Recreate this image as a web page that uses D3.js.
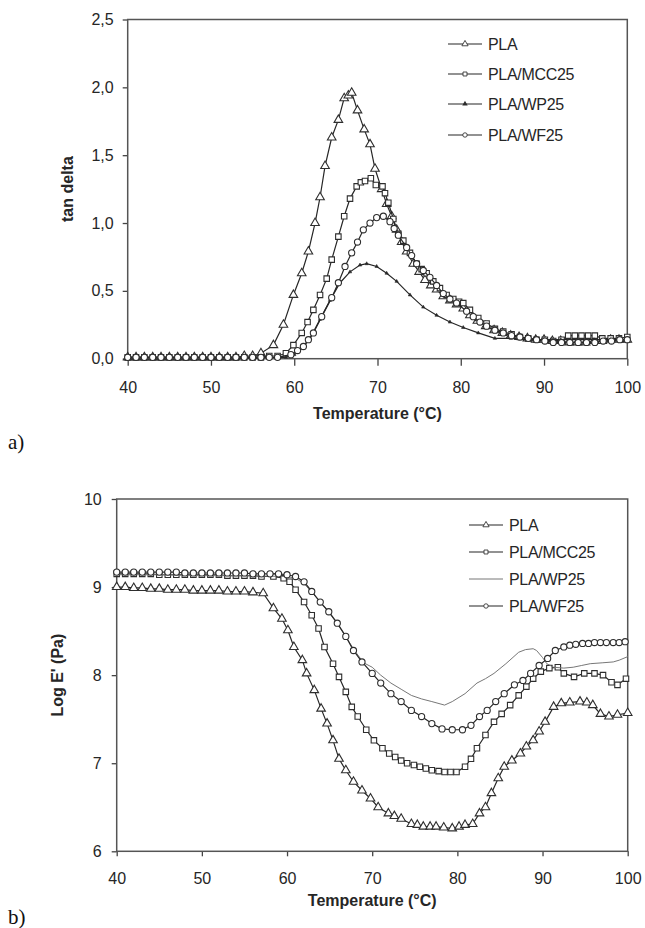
<!DOCTYPE html>
<html>
<head>
<meta charset="utf-8">
<script src="https://cdn.jsdelivr.net/npm/d3@7"></script>
<style>
  body { margin: 0; background: #fff; }
  svg { display: block; }
</style>
</head>
<body>
<div id="chart"></div>
<script>
// ---- data ----
const tempTicks = [40, 50, 60, 70, 80, 90, 100]
const tanTicks = [0, 0.5, 1, 1.5, 2, 2.5]
const logTicks = [6, 7, 8, 9, 10]
const seriesNames = ['PLA', 'PLA/MCC25', 'PLA/WP25', 'PLA/WF25']

// a) tan delta vs temperature
const tanPLA = [[40,0.01],[41,0.01],[42,0.01],[43,0.01],[44,0.01],[45,0.01],[46,0.01],[47,0.01],[48,0.01],[49,0.01],[50,0.01],[51,0.01],[52,0.01],[53,0.01],[54,0.02],[55,0.02],[56,0.04],
  [57.5,0.10],[58.7,0.25],[59.9,0.47],[60.9,0.63],[61.7,0.79],[62.5,1.0],[63.1,1.19],[63.7,1.42],[64.5,1.63],[65.3,1.76],[66.0,1.92],[66.5,1.94],[66.9,1.96],[67.6,1.83],[68.4,1.69],[69.1,1.58],[69.7,1.40],[70.5,1.25],[71.1,1.14],[71.7,1.05],[72.3,0.95],[72.9,0.86],[73.5,0.79],[74.3,0.70],[75.0,0.64],[75.7,0.58],[76.4,0.54],[77.1,0.51],[77.9,0.46],[78.7,0.43],[79.5,0.40],[80.3,0.37],[81.1,0.32],[82.0,0.28],[83.0,0.24],[84.0,0.21],[85.0,0.19],[86.0,0.17],[87.0,0.16],[88.0,0.15],[89.0,0.14],[90.0,0.14],[91,0.13],[92,0.13],[93,0.12],[94,0.12],[95,0.12],[96,0.13],[97,0.13],[98,0.14],[99,0.14],[100,0.14]]
const tanMCC = [[40,0.01],[41,0.01],[42,0.01],[43,0.01],[44,0.01],[45,0.01],[46,0.01],[47,0.01],[48,0.01],[49,0.01],[50,0.01],[51,0.01],[52,0.01],[53,0.01],[54,0.01],[55,0.01],[56,0.01],[57,0.02],[58,0.02],[59,0.04],
  [59.9,0.10],[60.9,0.19],[61.6,0.27],[62.3,0.36],[63.1,0.47],[63.9,0.59],[64.5,0.73],[65.3,0.90],[66.0,1.05],[66.7,1.18],[67.5,1.27],[68.0,1.30],[68.5,1.31],[69.2,1.33],[69.8,1.28],[70.6,1.27],[70.9,1.22],[71.3,1.15],[71.9,1.03],[72.5,0.92],[73.1,0.87],[73.9,0.78],[74.7,0.70],[75.3,0.66],[75.9,0.63],[76.7,0.57],[77.5,0.52],[78.3,0.47],[79.1,0.44],[79.8,0.42],[80.3,0.41],[81.1,0.36],[82.1,0.30],[83.1,0.26],[84.1,0.22],[85.1,0.20],[86.1,0.18],[87.1,0.16],[88.1,0.15],[89.1,0.14],[90.1,0.14],[91.1,0.13],[92.1,0.14],[92.9,0.17],[93.7,0.17],[94.5,0.17],[95.3,0.17],[96.1,0.17],[97,0.15],[98,0.15],[99,0.15],[100,0.16]]
const tanWP = [[40,0.01],[42,0.01],[44,0.01],[46,0.01],[48,0.01],[50,0.01],[52,0.01],[54,0.01],[56,0.01],[58,0.01],[59,0.01],[60,0.03],[61,0.08],[61.9,0.15],[63.1,0.29],[64.3,0.43],[65.5,0.56],[66.7,0.64],[67.9,0.69],[68.7,0.70],[69.9,0.68],[71.1,0.63],[72.3,0.57],[73.9,0.47],[75.5,0.38],[77.1,0.32],[78.7,0.27],[80.3,0.23],[82.1,0.19],[84.1,0.15],[86,0.15],[88,0.14],[90,0.14],[92,0.14],[94,0.14],[96,0.14],[98,0.14],[100,0.14]]
const tanWF = [[40,0.01],[41,0.01],[42,0.01],[43,0.01],[44,0.01],[45,0.01],[46,0.01],[47,0.01],[48,0.01],[49,0.01],[50,0.01],[51,0.01],[52,0.01],[53,0.01],[54,0.01],[55,0.01],[56,0.01],[57,0.01],[58,0.01],
  [59.6,0.03],[60.4,0.06],[61.1,0.09],[61.7,0.14],[62.3,0.19],[63.3,0.31],[64.5,0.45],[65.3,0.56],[66.1,0.68],[66.9,0.78],[67.6,0.86],[68.3,0.95],[69.1,1.00],[69.9,1.04],[70.7,1.05],[71.5,1.01],[72.0,0.96],[72.5,0.91],[73.5,0.82],[74.1,0.76],[74.7,0.70],[75.5,0.65],[76.3,0.60],[77.1,0.54],[77.9,0.48],[78.7,0.44],[79.5,0.41],[80.7,0.35],[81.5,0.31],[82.3,0.27],[83.1,0.24],[84.1,0.21],[85.1,0.19],[86.1,0.17],[87.1,0.16],[88.1,0.15],[89.1,0.14],[90.1,0.13],[91.1,0.12],[92.1,0.12],[93.1,0.12],[94.1,0.12],[95.1,0.12],[96.1,0.12],[97.1,0.13],[98.1,0.13],[99.1,0.14],[100,0.14]]

// b) log E' vs temperature
const logPLA = [[40,9.00],[41,9.00],[42,8.99],[43,8.99],[44,8.98],[45,8.98],[46,8.97],[47,8.97],[48,8.97],[49,8.96],[50,8.96],[51,8.96],[52,8.96],[53,8.95],[54,8.95],[55,8.95],[56,8.94],
  [57.2,8.93],[58.4,8.76],[59.4,8.64],[60.1,8.51],[60.8,8.32],[61.8,8.17],[62.3,8.02],[63.2,7.83],[64.0,7.62],[64.7,7.45],[65.4,7.26],[66.1,7.05],[66.9,6.92],[67.8,6.79],[68.8,6.69],[69.8,6.60],[70.7,6.50],[71.9,6.43],[72.6,6.40],[73.4,6.37],[74.6,6.31],[75.3,6.30],[76.0,6.28],[76.8,6.28],[77.5,6.28],[78.4,6.27],[79.4,6.26],[80.2,6.28],[80.9,6.30],[81.8,6.31],[82.6,6.43],[83.3,6.50],[84.0,6.66],[84.8,6.83],[85.5,6.96],[86.4,7.03],[87.4,7.11],[88.1,7.19],[88.9,7.26],[89.6,7.36],[90.3,7.47],[91.3,7.64],[92.2,7.68],[93.2,7.69],[94.4,7.70],[95.2,7.69],[95.9,7.66],[96.8,7.56],[97.8,7.53],[98.8,7.55],[100,7.57]]
const logMCC = [[40,9.15],[41,9.15],[42,9.15],[43,9.15],[44,9.15],[45,9.14],[46,9.14],[47,9.14],[48,9.14],[49,9.14],[50,9.14],[51,9.14],[52,9.14],[53,9.13],[54,9.13],[55,9.13],[56,9.13],[57,9.12],
  [58.4,9.12],[59.6,9.10],[60.3,9.06],[61.0,8.97],[62.0,8.83],[62.9,8.68],[63.7,8.53],[64.4,8.32],[65.4,8.13],[66.1,7.98],[66.9,7.81],[67.6,7.64],[68.3,7.53],[69.3,7.38],[70.2,7.26],[71.2,7.17],[72.0,7.11],[72.7,7.07],[73.4,7.03],[74.1,7.00],[74.9,6.98],[75.6,6.96],[76.3,6.94],[77.0,6.92],[77.8,6.91],[78.5,6.90],[79.2,6.90],[79.9,6.90],[80.9,6.96],[81.6,7.05],[82.3,7.17],[83.3,7.32],[84.3,7.47],[85.2,7.56],[86.2,7.66],[87.2,7.77],[88.1,7.87],[88.9,7.96],[89.8,8.04],[90.8,8.08],[91.8,8.09],[92.5,8.02],[93.7,7.98],[94.9,8.02],[96.1,8.02],[97.1,8.00],[98.1,7.92],[98.8,7.89],[99.8,7.96]]
const logWP = [[40,9.14],[45,9.14],[50,9.13],[55,9.13],[60,9.12],[61,9.10],[62,9.04],[63,8.93],[64,8.82],[65,8.70],[66,8.57],[67,8.42],[68,8.27],[69,8.14],[70,8.09],[71,8.00],[72.2,7.91],[73.4,7.84],[74.6,7.77],[75.8,7.73],[77.0,7.70],[78.5,7.66],[79.4,7.70],[80.9,7.79],[82.3,7.91],[83.3,7.96],[84.3,8.02],[85.7,8.13],[87.2,8.26],[88.0,8.29],[88.9,8.30],[89.3,8.28],[90.0,8.20],[90.5,8.13],[91.3,8.09],[92.5,8.08],[93.6,8.09],[94.6,8.11],[95.6,8.13],[97,8.14],[98.3,8.15],[99,8.17],[100,8.21]]
const logWF = [[40,9.17],[41,9.17],[42,9.17],[43,9.17],[44,9.17],[45,9.17],[46,9.17],[47,9.17],[48,9.16],[49,9.16],[50,9.16],[51,9.16],[52,9.16],[53,9.16],[54,9.16],[55,9.16],[56,9.15],[57,9.15],[58,9.15],[59,9.15],
  [60,9.14],[61.0,9.12],[62.0,9.06],[62.9,8.95],[63.9,8.83],[64.9,8.72],[65.9,8.59],[66.9,8.44],[67.8,8.28],[68.8,8.15],[70.0,8.02],[71.0,7.91],[72.2,7.79],[73.4,7.70],[74.6,7.60],[75.8,7.53],[77.0,7.45],[78.2,7.39],[79.4,7.38],[80.6,7.38],[81.6,7.43],[82.6,7.53],[83.5,7.60],[84.5,7.70],[85.5,7.79],[86.7,7.89],[87.7,7.94],[88.6,8.02],[89.6,8.11],[90.6,8.19],[91.5,8.28],[92.5,8.32],[93.2,8.34],[93.9,8.35],[94.7,8.36],[95.4,8.36],[96.1,8.37],[96.8,8.37],[97.5,8.37],[98.3,8.37],[99,8.37],[99.7,8.38]]

// ---- drawing ----
const width = 645
const height = 928
const fontMain = "'Liberation Sans', Arial, sans-serif"
const ink = '#262626'

const svg = d3
  .select('#chart')
  .append('svg')
  .attr('width', width)
  .attr('height', height)
  .attr('viewBox', `0 0 ${width} ${height}`)
  .style('background', '#fff')

const markerShapes = {
  triangle: d3.symbol().type(d3.symbolTriangle).size(32),
  square: d3.symbol().type(d3.symbolSquare).size(30),
  circle: d3.symbol().type(d3.symbolCircle).size(30),
  tiny: d3.symbol().type(d3.symbolTriangle).size(5),
}

function renderPanel({
  series,
  xRange,
  yRange,
  yDomain,
  yTicks,
  yFormat,
  yTitle,
  yTitleX,
  xTitleY,
  legend,
  yTickPadding,
  xTickSize,
}) {
  const xScale = d3.scaleLinear().domain([40, 100]).range(xRange)
  const yScale = d3.scaleLinear().domain(yDomain).range(yRange)
  const g = svg.append('g')

  // x axis
  g.append('g')
    .attr('transform', `translate(0, ${yRange[0]})`)
    .call(
      d3
        .axisBottom(xScale)
        .tickValues(tempTicks)
        .tickSize(xTickSize)
        .tickSizeOuter(0)
        .tickPadding(16),
    )
    .call(a => {
      a.select('.domain').remove()
      a.selectAll('.tick line').attr('stroke', '#444').attr('stroke-width', 1.3)
      a.selectAll('.tick text')
        .attr('fill', ink)
        .style('font-family', fontMain)
        .style('font-size', '16px')
    })

  // y axis
  g.append('g')
    .attr('transform', `translate(${xRange[0]}, 0)`)
    .call(
      d3
        .axisLeft(yScale)
        .tickValues(yTicks)
        .tickFormat(yFormat)
        .tickSize(5)
        .tickSizeOuter(0)
        .tickPadding(yTickPadding),
    )
    .call(a => {
      a.select('.domain').remove()
      a.selectAll('.tick line').attr('stroke', '#444').attr('stroke-width', 1.3)
      a.selectAll('.tick text')
        .attr('fill', ink)
        .style('font-family', fontMain)
        .style('font-size', '16px')
    })

  // plot frame
  g.append('rect')
    .attr('x', xRange[0])
    .attr('y', yRange[1])
    .attr('width', xRange[1] - xRange[0])
    .attr('height', yRange[0] - yRange[1])
    .attr('fill', 'none')
    .attr('stroke', '#555')
    .attr('stroke-width', 1.5)

  const line = d3
    .line()
    .x(d => xScale(d[0]))
    .y(d => yScale(d[1]))

  series.forEach(s => {
    g.append('path')
      .datum(s.data)
      .attr('d', line)
      .attr('fill', 'none')
      .attr('stroke', s.color || ink)
      .attr('stroke-width', s.lineWidth || 1.2)

    if (s.marker) {
      g.append('g')
        .selectAll('path')
        .data(s.data)
        .join('path')
        .attr('transform', d => `translate(${xScale(d[0])}, ${yScale(d[1])})`)
        .attr('d', markerShapes[s.marker])
        .attr('fill', s.marker === 'tiny' ? ink : '#fff')
        .attr('stroke', '#2e2e2e')
        .attr('stroke-width', s.marker === 'tiny' ? 0.6 : 1.1)
    }
  })

  // legend (markers drawn smaller, as in the original key)
  const lg = g
    .append('g')
    .selectAll('g')
    .data(series)
    .join('g')
    .attr('transform', (d, i) => `translate(${legend.x}, ${legend.rows[i]})`)
  lg.append('line')
    .attr('x1', 0)
    .attr('x2', 34)
    .attr('stroke', d => d.color || ink)
    .attr('stroke-width', d => d.lineWidth || 1.2)
  lg.filter(d => d.marker)
    .append('path')
    .attr('transform', d => (d.marker === 'tiny' ? 'translate(17, 0)' : 'translate(17, 0) scale(0.72)'))
    .attr('d', d => markerShapes[d.marker]())
    .attr('fill', d => (d.marker === 'tiny' ? ink : '#fff'))
    .attr('stroke', '#2e2e2e')
    .attr('stroke-width', 1.2)
  lg.append('text')
    .attr('x', 40)
    .attr('dy', '0.36em')
    .text(d => d.name)
    .attr('fill', ink)
    .style('font-family', fontMain)
    .style('font-size', '16px')
    .style('letter-spacing', '-0.3px')

  // axis titles
  g.append('text')
    .attr('transform', `translate(${(xRange[0] + xRange[1]) / 2}, ${xTitleY})`)
    .attr('text-anchor', 'middle')
    .attr('dy', '0.36em')
    .text('Temperature (°C)')
    .attr('fill', ink)
    .style('font-family', fontMain)
    .style('font-weight', 'bold')
    .style('font-size', '16px')

  g.append('text')
    .attr('transform', `translate(${yTitleX}, ${(yRange[0] + yRange[1]) / 2}) rotate(-90)`)
    .attr('text-anchor', 'middle')
    .attr('dy', '0.36em')
    .text(yTitle)
    .attr('fill', ink)
    .style('font-family', fontMain)
    .style('font-weight', 'bold')
    .style('font-size', '16px')
}

const commaFormat = d => d3.format('.1f')(d).replace('.', ',')

renderPanel({
  series: [
    { name: seriesNames[0], data: tanPLA, marker: 'triangle' },
    { name: seriesNames[1], data: tanMCC, marker: 'square' },
    { name: seriesNames[2], data: tanWP, marker: 'tiny' },
    { name: seriesNames[3], data: tanWF, marker: 'circle' },
  ],
  xRange: [127.7, 627.3],
  yRange: [358.7, 19.5],
  yDomain: [0, 2.5],
  yTicks: tanTicks,
  yFormat: commaFormat,
  yTitle: 'tan delta',
  yTitleX: 67,
  xTitleY: 413,
  legend: { x: 448, rows: [44, 74, 104, 135] },
  yTickPadding: 9,
  xTickSize: 7,
})

renderPanel({
  series: [
    { name: seriesNames[0], data: logPLA, marker: 'triangle' },
    { name: seriesNames[1], data: logMCC, marker: 'square' },
    { name: seriesNames[2], data: logWP, color: '#777', lineWidth: 1 },
    { name: seriesNames[3], data: logWF, marker: 'circle' },
  ],
  xRange: [116.7, 627.7],
  yRange: [851.3, 499],
  yDomain: [6, 10],
  yTicks: logTicks,
  yFormat: d3.format('d'),
  yTitle: "Log E' (Pa)",
  yTitleX: 57,
  xTitleY: 900,
  legend: { x: 469, rows: [525, 552, 579, 606] },
  yTickPadding: 10,
  xTickSize: 5,
})

// panel letters
svg.append('text')
  .attr('x', 8)
  .attr('y', 449)
  .text('a)')
  .attr('fill', '#111')
  .style('font-family', "'Liberation Serif', 'Times New Roman', serif")
  .style('font-size', '21px')

svg.append('text')
  .attr('x', 8)
  .attr('y', 924)
  .text('b)')
  .attr('fill', '#111')
  .style('font-family', "'Liberation Serif', 'Times New Roman', serif")
  .style('font-size', '21px')
</script>
</body>
</html>
